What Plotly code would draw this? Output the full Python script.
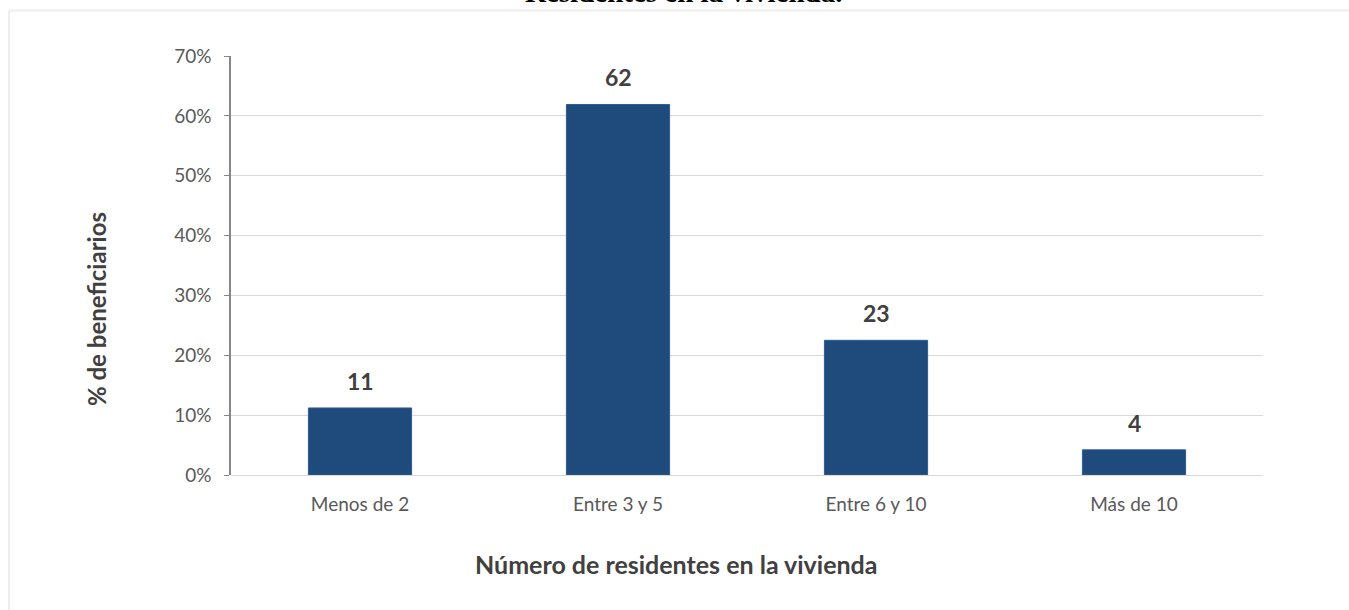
import plotly.graph_objects as go

categories = ["Menos de 2", "Entre 3 y 5", "Entre 6 y 10", "Más de 10"]
values = [11.2, 61.9, 22.5, 4.2]
labels = ["11", "62", "23", "4"]
y_ticks = [0, 10, 20, 30, 40, 50, 60, 70]

W, H = 1349, 610
L, R, T, B = 231, 86, 56, 135
pw, ph = W - L - R, H - T - B

def px(x):
    return (x - L) / pw

def py(y):
    return (H - B - y) / ph

FONT = "Lato, Calibri, sans-serif"

fig = go.Figure()
fig.add_trace(go.Bar(
    x=categories, y=values, width=0.4,
    marker=dict(color="#1F4A7C", line=dict(color="#2E5C91", width=1)),
    hoverinfo="skip",
))

annotations = []
for c, v, t in zip(categories, values, labels):
    annotations.append(dict(x=c, y=v, xref="x", yref="y", text=t, showarrow=False,
                            yanchor="middle", yshift=27,
                            font=dict(family=FONT, size=23, color="#404040", weight="bold")))

annotations += [
    dict(x=px(683), y=py(10), xref="paper", yref="paper", text="<b>Residentes en la vivienda.</b>",
         showarrow=False, xanchor="center", yanchor="bottom",
         font=dict(family="Liberation Serif, Times New Roman, serif", size=29, color="#000000")),
    dict(x=px(96), y=py(309), xref="paper", yref="paper", text="<b>% de beneficiarios</b>",
         showarrow=False, textangle=-90, xanchor="center", yanchor="middle",
         font=dict(family=FONT, size=24, color="#404040")),
    dict(x=px(676), y=py(564), xref="paper", yref="paper", text="<b>Número de residentes en la vivienda</b>",
         showarrow=False, xanchor="center", yanchor="middle",
         font=dict(family=FONT, size=25, color="#404040")),
]

shapes = [
    dict(type="line", xref="paper", yref="paper", x0=px(9), x1=px(9), y0=py(10.5), y1=py(620),
         line=dict(color="#EEEEEE", width=2)),
    dict(type="line", xref="paper", yref="paper", x0=px(9), x1=px(1360), y0=py(10.5), y1=py(10.5),
         line=dict(color="#EEEEEE", width=2)),
]

fig.update_layout(
    width=W, height=H,
    margin=dict(l=L, r=R, t=T, b=B),
    paper_bgcolor="white", plot_bgcolor="white",
    showlegend=False,
    annotations=annotations,
    shapes=shapes,
    font=dict(family=FONT, size=19, color="#595959"),
    xaxis=dict(showline=False, showgrid=False, ticks="", ticklabelstandoff=16,
               tickfont=dict(size=19, color="#595959")),
    yaxis=dict(range=[0, 70], tickvals=y_ticks, ticktext=[f"{v}%" for v in y_ticks],
               showgrid=True, gridcolor="#D9D9D9", gridwidth=1,
               zeroline=True, zerolinecolor="#D9D9D9", zerolinewidth=1,
               showline=True, linecolor="#868686", linewidth=1.5,
               ticks="outside", ticklen=5, tickcolor="#868686", ticklabelstandoff=9,
               tickfont=dict(size=19, color="#595959")),
)

fig.write_html("out.html", config={"displayModeBar": False},
               post_script="document.body.style.margin='0';document.body.style.overflow='hidden';")
